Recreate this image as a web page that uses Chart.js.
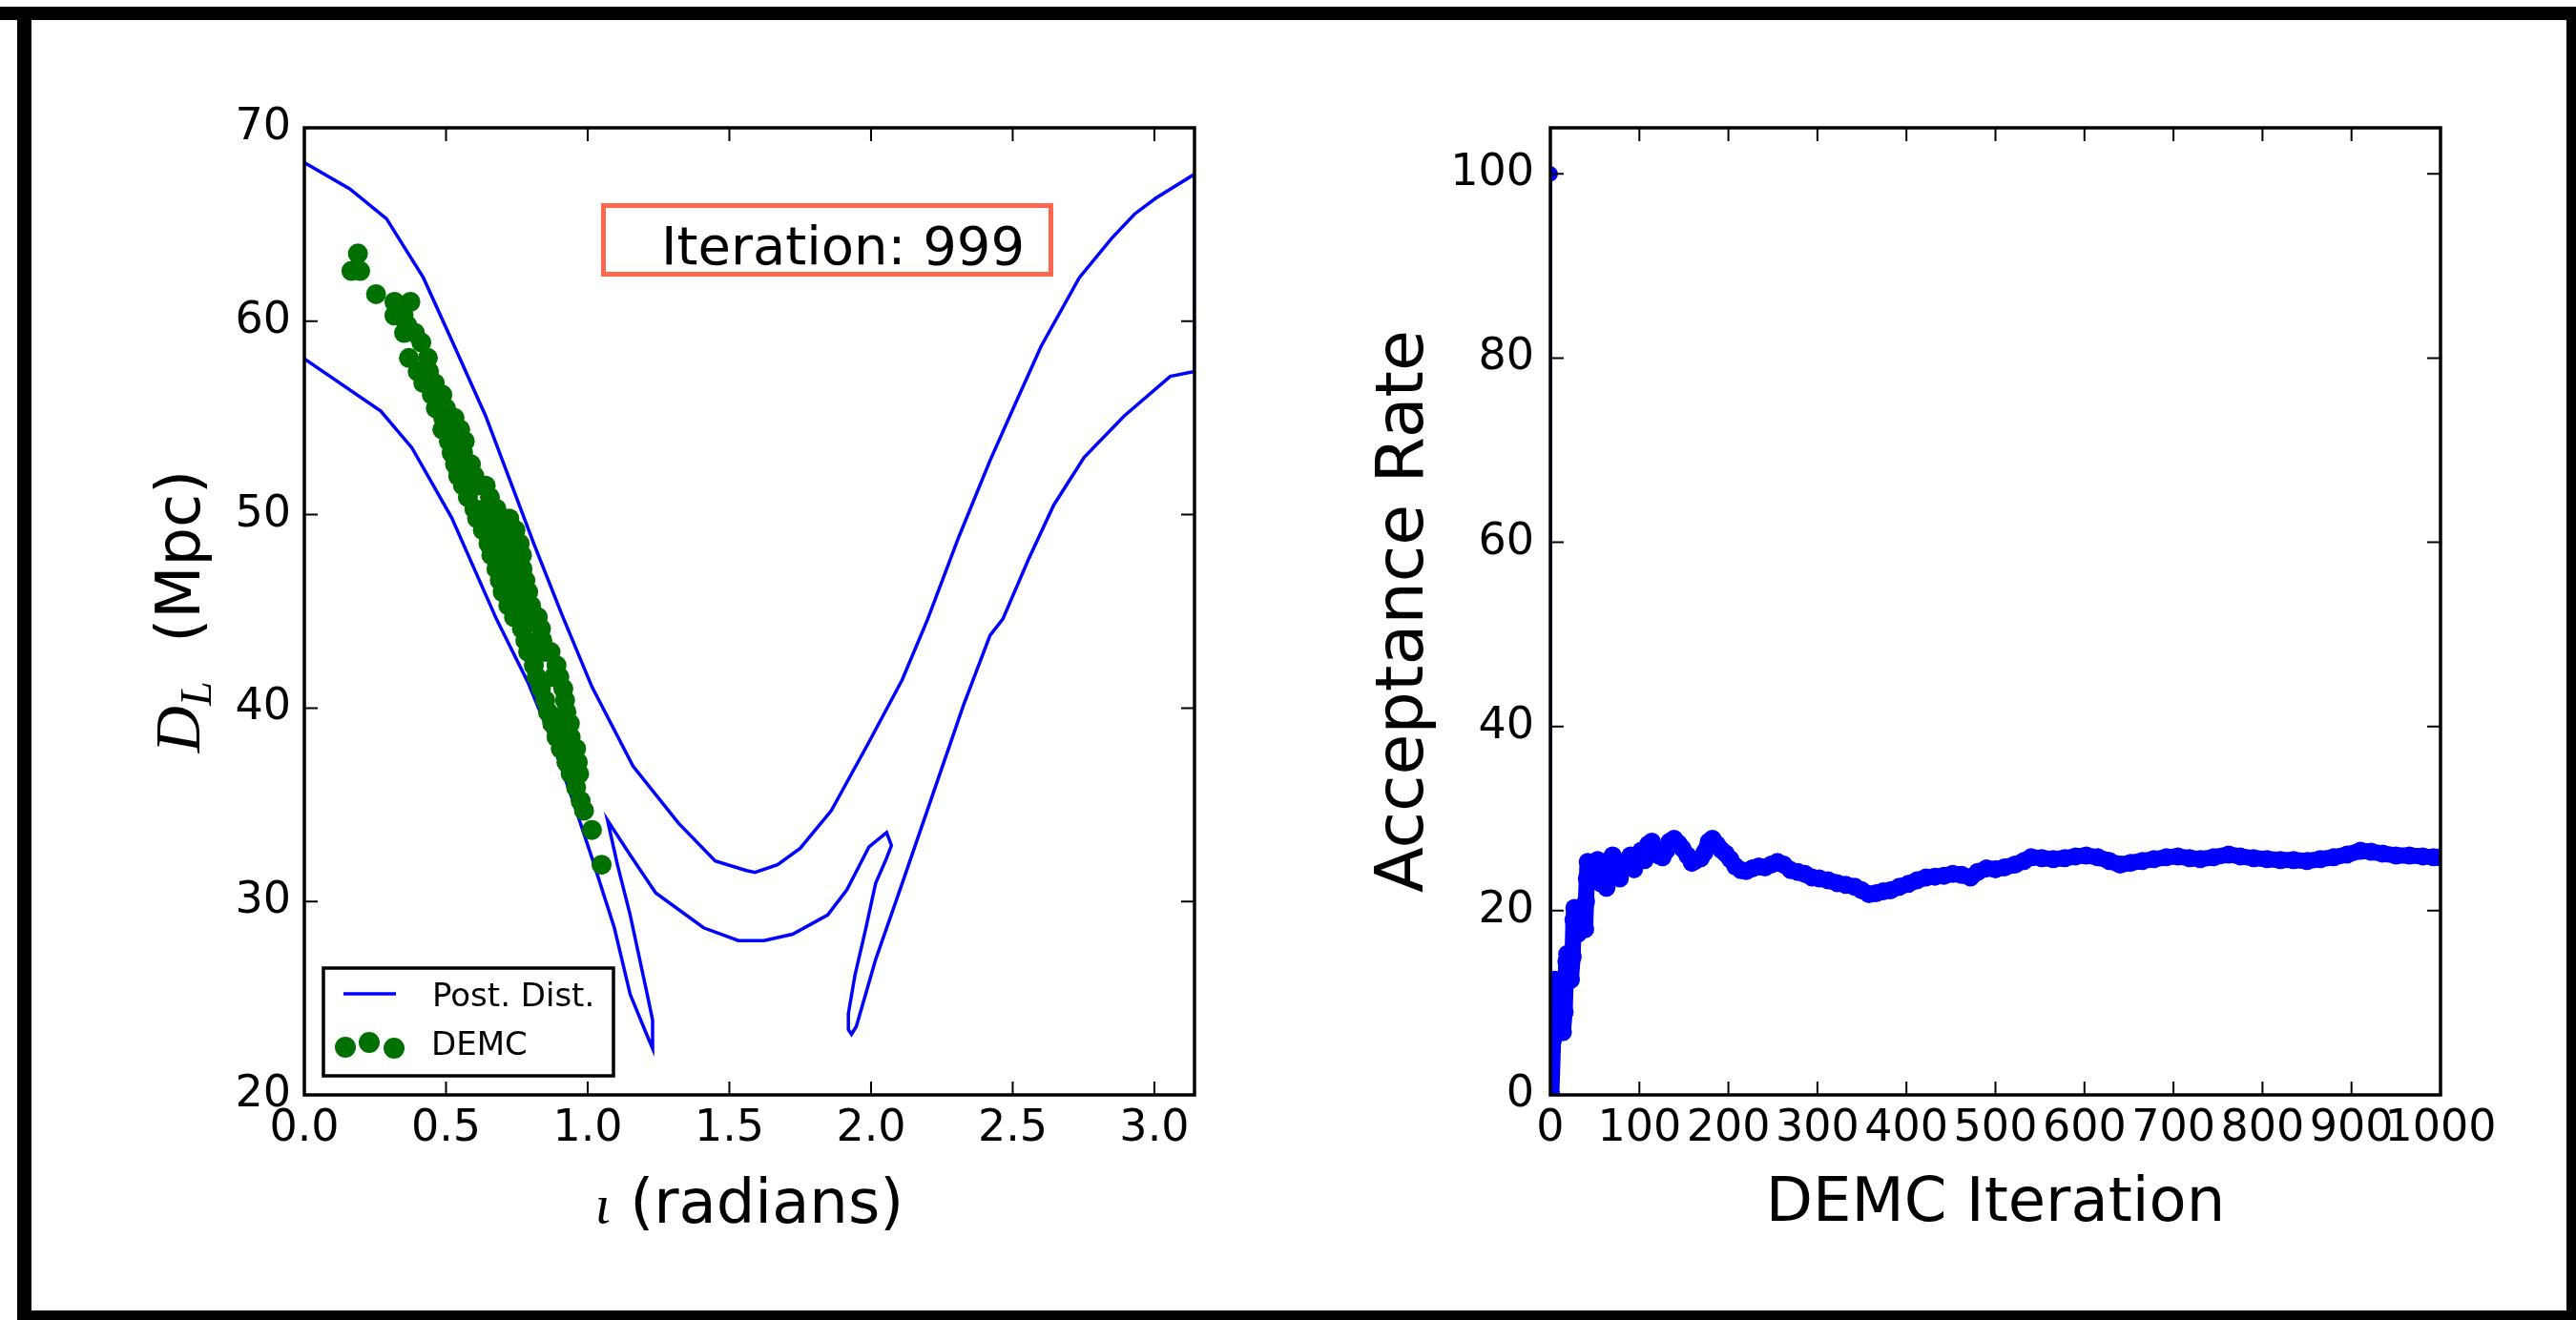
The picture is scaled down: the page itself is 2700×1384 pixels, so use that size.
<!DOCTYPE html>
<html>
<head>
<meta charset="utf-8">
<title>DEMC posterior and acceptance rate</title>
<script src="https://cdn.jsdelivr.net/npm/chart.js@4.4.1/dist/chart.umd.min.js"></script>
<style>
  html, body { margin: 0; padding: 0; background: #fff; }
  #page { position: relative; width: 2700px; height: 1384px; overflow: hidden; background: #fff; }
  #page canvas { position: absolute; top: 0; }
  .edge { position: absolute; background: #000; }
</style>
</head>
<body>
<div id="page">
  <canvas id="posterior" width="1350" height="1384" style="left:0;width:1350px;height:1384px"></canvas>
  <canvas id="acceptance" width="1350" height="1384" style="left:1350px;width:1350px;height:1384px"></canvas>
  <div class="edge" style="left:0;top:7px;width:2700px;height:14px"></div>
  <div class="edge" style="left:18px;top:7px;width:15px;height:1377px"></div>
  <div class="edge" style="left:2690px;top:7px;width:10px;height:1377px"></div>
  <div class="edge" style="left:18px;top:1374px;width:2682px;height:10px"></div>
</div>
<script>
// left panel: inclination vs luminosity distance
const incTicks = [0, 0.5, 1, 1.5, 2, 2.5, 3];
const distTicks = [20, 30, 40, 50, 60, 70];

// posterior contour, traced as one path (outer edge, right edge, inner edge with both spikes)
const contourInc = [0.0, 0.16, 0.29, 0.42, 0.53, 0.64, 0.72, 0.81, 0.91, 1.015, 1.16, 1.32, 1.45, 1.56, 1.59,
  1.67, 1.75, 1.86, 1.99, 2.11, 2.2, 2.31, 2.42, 2.51, 2.6, 2.735, 2.85, 2.93, 3.005, 3.1416,
  3.1416, 3.056, 2.893, 2.752, 2.645, 2.556, 2.465, 2.42, 2.326, 2.218, 2.106, 2.016, 1.948, 1.931, 1.92,
  1.92, 1.943, 1.982, 2.016, 2.055, 2.072, 2.055, 1.993, 1.915, 1.847, 1.723, 1.622, 1.532, 1.409, 1.24,
  1.15, 1.07, 1.105, 1.15, 1.213, 1.229, 1.229, 1.201, 1.15, 1.094, 1.015, 0.948, 0.869, 0.79, 0.678,
  0.52, 0.38, 0.27, 0.0];
const contourDist = [68.2, 66.85, 65.3, 62.25, 58.7, 55.1, 52.0, 48.5, 44.8, 41.1, 37.0, 34.06, 32.1, 31.6, 31.5,
  31.9, 32.75, 34.7, 38.17, 41.46, 44.6, 48.86, 52.8, 55.76, 58.7, 62.25, 64.3, 65.54, 66.36, 67.6,
  57.4, 57.15, 55.1, 52.96, 50.5, 47.7, 44.6, 43.76, 40.14, 35.54, 30.77, 26.99, 23.54, 23.13, 23.38,
  24.2, 26.17, 28.64, 30.93, 32.25, 32.9, 33.57, 32.83, 30.61, 29.3, 28.31, 27.98, 27.98, 28.64, 30.44,
  32.4, 34.2, 31.9, 29.3, 25.0, 23.87, 22.4, 23.38, 25.2, 28.64, 32.26, 35.2, 38.5, 41.3, 44.6,
  49.84, 53.45, 55.35, 58.06];

// DEMC chain positions
const demcInc = [0.189, 0.166, 0.197, 0.253, 0.318, 0.374, 0.318, 0.35, 0.363, 0.352, 0.39,
  0.413, 0.369, 0.436, 0.40, 0.44, 0.42, 0.46, 0.45, 0.487, 0.464, 0.50,
  0.49, 0.53, 0.487, 0.55, 0.51, 0.566, 0.52, 0.56, 0.532, 0.588,
  0.543, 0.60, 0.56, 0.61, 0.64, 0.577, 0.655, 0.60, 0.64, 0.678,
  0.61, 0.66, 0.723, 0.63, 0.68, 0.745, 0.65, 0.70, 0.76, 0.66, 0.72, 0.768,
  0.678, 0.73, 0.77, 0.69, 0.74, 0.78, 0.70, 0.75, 0.79, 0.72, 0.77, 0.80,
  0.74, 0.79, 0.824, 0.768, 0.835, 0.78, 0.84, 0.79, 0.85, 0.869,
  0.81, 0.89, 0.82, 0.88, 0.90, 0.835, 0.914, 0.85, 0.92, 0.86, 0.925,
  0.875, 0.937, 0.89, 0.94, 0.905, 0.959, 0.925, 0.965, 0.94, 0.97,
  0.959, 0.975, 0.987, 1.015, 1.049];
const demcDist = [63.5, 62.6, 62.6, 61.4, 61.0, 61.0, 60.3, 60.3, 59.8, 59.4, 59.4,
  58.9, 58.1, 58.1, 57.4, 57.4, 56.8, 56.8, 56.2, 56.2, 55.5, 55.5,
  55.0, 55.0, 54.4, 54.4, 53.8, 53.8, 53.2, 53.2, 52.6, 52.6,
  52.0, 52.0, 51.5, 51.5, 51.5, 50.9, 50.9, 50.3, 50.3, 50.3,
  49.8, 49.8, 49.8, 49.2, 49.2, 49.2, 48.5, 48.5, 48.5, 47.9, 47.9, 47.9,
  47.2, 47.2, 47.2, 46.6, 46.6, 46.6, 46.0, 46.0, 46.0, 45.3, 45.3, 45.3,
  44.7, 44.7, 44.7, 44.1, 44.1, 43.5, 43.5, 42.9, 42.9, 42.9,
  42.2, 42.2, 41.6, 41.6, 41.6, 41.0, 41.0, 40.4, 40.4, 39.8, 39.8,
  39.2, 39.2, 38.5, 38.5, 37.9, 37.9, 37.2, 37.2, 36.6, 36.6,
  35.9, 35.2, 34.7, 33.7, 31.9];

// right panel: running acceptance rate
const iterTicks = [0, 100, 200, 300, 400, 500, 600, 700, 800, 900, 1000];
const rateTicks = [0, 20, 40, 60, 80, 100];
const demcIter = [0, 1, 3, 5, 8, 10, 12, 14, 16, 17,
  18, 19, 21, 23, 25, 26, 27, 29, 31, 34,
  37, 39, 40, 41, 42, 45, 48, 50, 53, 56,
  60, 63, 66, 70, 74, 78, 82, 86, 90, 94,
  98, 102, 106, 110, 114, 118, 122, 126, 130, 134,
  139, 144, 148, 154, 159, 164, 169, 173, 178, 182,
  187, 192, 197, 202, 208, 214, 220, 227, 234, 241,
  248, 255, 262, 270, 278, 286, 294, 302, 312, 322,
  332, 342, 350, 358, 366, 374, 382, 392, 402, 412,
  422, 432, 442, 452, 462, 472, 480, 490, 500, 510,
  522, 532, 540, 552, 565, 578, 590, 602, 615, 628,
  640, 652, 665, 678, 692, 705, 718, 730, 745, 762,
  775, 790, 805, 820, 835, 850, 865, 880, 895, 910,
  922, 935, 950, 965, 980, 992, 1000];
const acceptRate = [100, 0, 6, 12.5, 12.3, 10.5, 8.5, 6.8, 9, 12,
  14.5, 15.3, 14, 12.5, 15, 19, 20.3, 19, 17.5, 18,
  19.5, 18, 21, 23.5, 25.3, 23.5, 25, 24, 25.5, 23,
  24.5, 22.5, 25.5, 26, 24, 23.5, 25, 25.5, 26, 24.5,
  26, 26.5, 25.5, 27.2, 27.5, 26.5, 26, 25.8, 26.5, 27.5,
  27.8, 27.3, 26.8, 26, 25.2, 25.5, 25.7, 26.3, 27.5, 27.8,
  27.2, 26.6, 26.2, 25.6, 24.8, 24.4, 24.3, 24.6, 24.8, 24.7,
  25.0, 25.3, 25.0, 24.4, 24.2, 24.0, 23.6, 23.5, 23.3, 23.0,
  22.8, 22.6, 22.2, 21.8, 21.9, 22.1, 22.2, 22.6, 22.9, 23.3,
  23.6, 23.7, 23.8, 24.0, 23.9, 23.6, 24.2, 24.6, 24.5, 24.7,
  25.0, 25.4, 25.8, 25.7, 25.6, 25.7, 25.9, 26.0, 25.8, 25.4,
  25.0, 25.2, 25.4, 25.6, 25.8, 25.9, 25.7, 25.6, 25.8, 26.1,
  25.9, 25.7, 25.6, 25.5, 25.5, 25.4, 25.6, 25.8, 26.1, 26.5,
  26.4, 26.2, 26.0, 26.0, 25.9, 25.8, 25.8];

const SANS = '"DejaVu Sans"';
const SERIF = '"Liberation Serif"';
const BLUE = '#0000ff';
const GREEN = '#007000';
const TICK_PX = 46;
const TITLE_PX = 64;

Chart.defaults.font.family = SANS;
Chart.defaults.color = '#000';

const pts = (xs, ys) => xs.map((x, i) => ({ x, y: ys[i] }));

// axis titles per canvas, as runs of text so the math parts can use an italic serif
const titleRuns = {
  posterior: {
    x: [
      { text: 'ι', css: 'italic 58px ' + SERIF },
      { text: ' (radians)', css: TITLE_PX + 'px ' + SANS }
    ],
    y: [
      { text: 'D', css: 'italic 68px ' + SERIF },
      { text: 'L', css: 'italic 46px ' + SERIF, shift: 12 },
      { text: '  (Mpc)', css: TITLE_PX + 'px ' + SANS }
    ]
  },
  acceptance: {
    x: [{ text: 'DEMC Iteration', css: TITLE_PX + 'px ' + SANS }],
    y: [{ text: 'Acceptance Rate', css: '70px ' + SANS }]
  }
};

// black box round the plot area with inward ticks on all four sides
const boxFrame = {
  id: 'boxFrame',
  afterDatasetsDraw(chart) {
    const { ctx, chartArea: a, scales } = chart;
    const len = 14;
    ctx.save();
    ctx.strokeStyle = '#000';
    ctx.lineWidth = 2;
    ctx.beginPath();
    scales.x.ticks.forEach(t => {
      const px = scales.x.getPixelForValue(t.value);
      ctx.moveTo(px, a.bottom); ctx.lineTo(px, a.bottom - len);
      ctx.moveTo(px, a.top); ctx.lineTo(px, a.top + len);
    });
    scales.y.ticks.forEach(t => {
      const py = scales.y.getPixelForValue(t.value);
      ctx.moveTo(a.left, py); ctx.lineTo(a.left + len, py);
      ctx.moveTo(a.right, py); ctx.lineTo(a.right - len, py);
    });
    ctx.stroke();
    ctx.lineWidth = 3.5;
    ctx.strokeRect(a.left, a.top, a.right - a.left, a.bottom - a.top);
    ctx.restore();
  }
};

// draw a row of text runs (mixed fonts) centred on (cx, cy), rotated by angle
function drawRuns(ctx, runs, cx, cy, angle) {
  ctx.save();
  ctx.translate(cx, cy);
  ctx.rotate(angle);
  ctx.textAlign = 'left';
  ctx.textBaseline = 'alphabetic';
  ctx.fillStyle = '#000';
  let total = 0;
  runs.forEach(r => { ctx.font = r.css; total += ctx.measureText(r.text).width; });
  let x = -total / 2;
  runs.forEach(r => {
    ctx.font = r.css;
    ctx.fillText(r.text, x, r.shift || 0);
    x += ctx.measureText(r.text).width;
  });
  ctx.restore();
}

const axisTitles = {
  id: 'axisTitles',
  afterDraw(chart, args, o) {
    const runs = titleRuns[chart.canvas.id];
    if (!runs) return;
    const { ctx, chartArea: a } = chart;
    drawRuns(ctx, runs.x, (a.left + a.right) / 2, a.bottom + o.xGap, 0);
    drawRuns(ctx, runs.y, a.left - o.yGap, (a.top + a.bottom) / 2, -Math.PI / 2);
  }
};

// legend box in the lower left corner of the posterior panel
const cornerLegend = {
  id: 'cornerLegend',
  afterDraw(chart, args, o) {
    if (!o.show) return;
    const { ctx, chartArea: a } = chart;
    const x0 = a.left, y0 = a.bottom;
    ctx.save();
    ctx.fillStyle = '#fff';
    ctx.fillRect(x0 + 20, y0 - 133, 304, 113);
    ctx.strokeStyle = '#000';
    ctx.lineWidth = 3.5;
    ctx.strokeRect(x0 + 20, y0 - 133, 304, 113);
    ctx.strokeStyle = BLUE;
    ctx.lineWidth = 3.5;
    ctx.beginPath();
    ctx.moveTo(x0 + 41, y0 - 106);
    ctx.lineTo(x0 + 96, y0 - 106);
    ctx.stroke();
    ctx.fillStyle = GREEN;
    [[43, -50], [68, -55], [94, -49]].forEach(([dx, dy]) => {
      ctx.beginPath();
      ctx.arc(x0 + dx, y0 + dy, 11, 0, Math.PI * 2);
      ctx.fill();
    });
    ctx.fillStyle = '#000';
    ctx.font = '34px ' + SANS;
    ctx.textAlign = 'left';
    ctx.textBaseline = 'alphabetic';
    ctx.fillText('Post. Dist.', x0 + 134, y0 - 93);
    ctx.fillText('DEMC', x0 + 133, y0 - 42);
    ctx.restore();
  }
};

// iteration counter in a red box
const iterationBox = {
  id: 'iterationBox',
  afterDraw(chart, args, o) {
    if (!o.label) return;
    const { ctx, chartArea: a } = chart;
    ctx.save();
    ctx.fillStyle = '#fff';
    ctx.fillRect(a.left + 313.5, a.top + 81.5, 469, 72);
    ctx.strokeStyle = '#ff6650';
    ctx.lineWidth = 5;
    ctx.strokeRect(a.left + 313.5, a.top + 81.5, 469, 72);
    ctx.fillStyle = '#000';
    ctx.font = '56px ' + SANS;
    ctx.textAlign = 'left';
    ctx.textBaseline = 'alphabetic';
    ctx.fillText(o.label, a.left + 374, a.top + 142.7);
    ctx.restore();
  }
};

function axis(min, max, ticks, fmt, fit, pad) {
  return {
    type: 'linear',
    min, max,
    afterBuildTicks: s => { s.ticks = ticks.map(v => ({ value: v })); },
    afterFit: fit,
    grid: { display: false, drawTicks: false },
    border: { display: false },
    ticks: {
      autoSkip: false, maxRotation: 0, minRotation: 0, padding: pad,
      color: '#000', font: { size: TICK_PX, family: SANS },
      callback: fmt
    }
  };
}

new Chart(document.getElementById('posterior'), {
  type: 'scatter',
  data: {
    datasets: [
      {
        label: 'DEMC',
        data: pts(demcInc, demcDist),
        pointRadius: 10.5, pointHoverRadius: 10.5,
        backgroundColor: GREEN, borderWidth: 0
      },
      {
        label: 'Post. Dist.',
        data: pts(contourInc, contourDist),
        showLine: true, borderColor: BLUE, borderWidth: 3.5,
        pointRadius: 0, tension: 0
      }
    ]
  },
  options: {
    responsive: false, animation: false, devicePixelRatio: 1, events: [],
    layout: { padding: { left: 0, top: 134, right: 98, bottom: 0 } },
    scales: {
      x: axis(0, Math.PI, incTicks, v => v.toFixed(1), s => { s.height = 236; }, 8),
      y: axis(20, 70, distTicks, v => String(v), s => { s.width = 319; }, 14)
    },
    plugins: {
      legend: { display: false },
      tooltip: { enabled: false },
      axisTitles: { xGap: 134, yGap: 110 },
      cornerLegend: { show: true },
      iterationBox: { label: 'Iteration: 999' }
    }
  },
  plugins: [boxFrame, axisTitles, cornerLegend, iterationBox]
});

new Chart(document.getElementById('acceptance'), {
  type: 'scatter',
  data: {
    datasets: [
      {
        // first sample (100%) joined to the rest by a thin line
        label: 'start',
        data: pts(demcIter.slice(0, 2), acceptRate.slice(0, 2)),
        showLine: true, borderColor: BLUE, borderWidth: 2,
        pointRadius: [7, 0], backgroundColor: BLUE,
        clip: 0
      },
      {
        label: 'Acceptance Rate',
        data: pts(demcIter.slice(1), acceptRate.slice(1)),
        showLine: true, borderColor: BLUE, borderWidth: 17,
        borderJoinStyle: 'round', borderCapStyle: 'round',
        pointRadius: 9.5, pointBorderWidth: 0, backgroundColor: BLUE,
        tension: 0, clip: 0
      }
    ]
  },
  options: {
    responsive: false, animation: false, devicePixelRatio: 1, events: [],
    layout: { padding: { left: 0, top: 134, right: 142, bottom: 0 } },
    scales: {
      x: axis(0, 1000, iterTicks, v => String(v), s => { s.height = 236; }, 8),
      y: axis(0, 105, rateTicks, v => String(v), s => { s.width = 275; }, 17)
    },
    plugins: {
      legend: { display: false },
      tooltip: { enabled: false },
      axisTitles: { xGap: 132, yGap: 134 },
      cornerLegend: { show: false },
      iterationBox: { label: '' }
    }
  },
  plugins: [boxFrame, axisTitles, cornerLegend, iterationBox]
});
</script>
</body>
</html>
